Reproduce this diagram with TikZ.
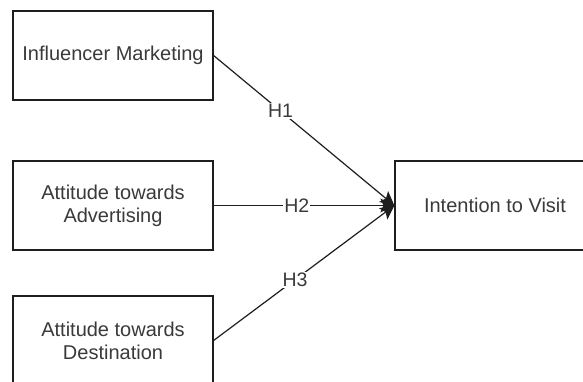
\documentclass[tikz,border=0pt]{standalone}
\usepackage{fontspec}
\setmainfont{Liberation Sans}
\usetikzlibrary{arrows.meta}
\definecolor{txt}{HTML}{3A3A3A}
\definecolor{edge}{HTML}{1E1E1E}
\tikzset{
  box/.style={draw=edge, line width=1.2pt, minimum width=200pt, minimum height=89pt,
    inner sep=0pt, align=center, text=txt, font=\fontsize{20}{23}\selectfont},
  link/.style={draw=edge, line width=1.2pt, -{Stealth[length=14pt,width=14pt,inset=3pt]}},
  hlabel/.style={fill=white, inner sep=1pt, text=txt, font=\fontsize{19.5}{21}\selectfont}
}
\begin{document}
\begin{tikzpicture}[x=1pt,y=-1pt]
\clip (0,0) rectangle (583,382);
\useasboundingbox (0,0) rectangle (583,382);
\fill[white] (0,0) rectangle (583,382);
\node[box] (im) at (113,55.5) {Influencer Marketing};
\node[box] (aa) at (113,205.5) {Attitude towards\\Advertising};
\node[box] (ad) at (113,340.5) {Attitude towards\\Destination};
\node[box] (iv) at (495,205.5) {Intention to Visit};
\draw[link] (im.east) -- node[hlabel, pos=0.37] {H1} (iv.west);
\draw[link] (aa.east) -- node[hlabel, pos=0.46] {H2} (iv.west);
\draw[link] (ad.east) -- node[hlabel, pos=0.45] {H3} (iv.west);
\end{tikzpicture}
\end{document}
